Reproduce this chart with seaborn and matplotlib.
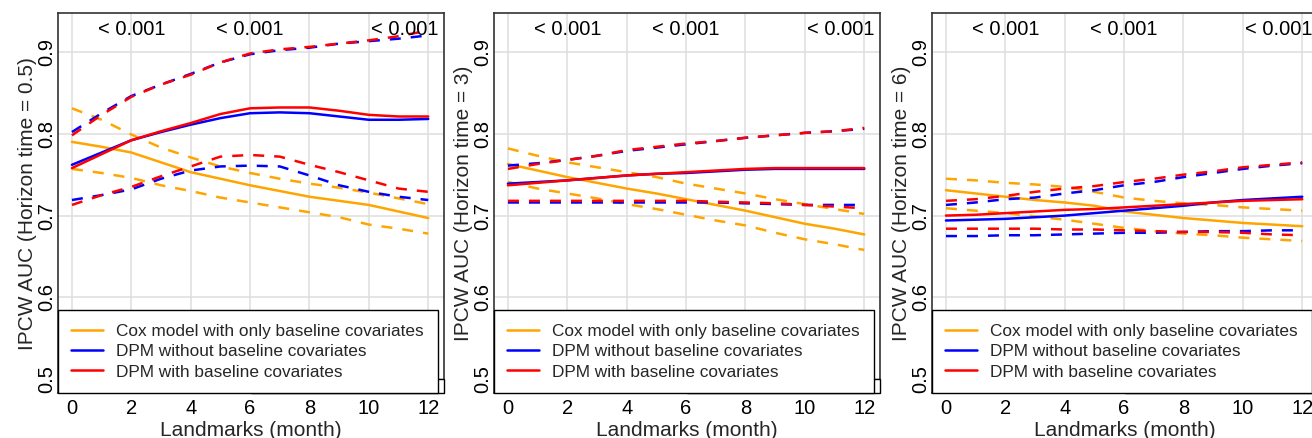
import numpy as np
import pandas as pd
import seaborn as sns
import matplotlib.pyplot as plt
from matplotlib.lines import Line2D
from matplotlib.patches import Rectangle

# landmark times (month) and labels
landmarks = list(range(13))
horizons = ['0.5', '3', '6']
models = ['Cox model with only baseline covariates',
          'DPM without baseline covariates',
          'DPM with baseline covariates']
colors = ['#FFA500', '#0000FF', '#FF0000']
p_labels = ['< 0.001', '< 0.001', '< 0.001']
p_positions = [2, 6, 11.2]

# horizon time = 0.5 : estimate, lower and upper CI
cox_h05 = [0.790, 0.784, 0.777, 0.765, 0.753, 0.745, 0.737, 0.730, 0.723, 0.718, 0.713, 0.705, 0.697]
cox_h05_lo = [0.757, 0.752, 0.746, 0.737, 0.730, 0.722, 0.716, 0.710, 0.704, 0.698, 0.689, 0.684, 0.678]
cox_h05_hi = [0.831, 0.817, 0.799, 0.783, 0.771, 0.760, 0.752, 0.745, 0.739, 0.734, 0.728, 0.721, 0.714]
dpm_h05 = [0.762, 0.777, 0.792, 0.802, 0.811, 0.819, 0.825, 0.826, 0.825, 0.821, 0.817, 0.817, 0.818]
dpm_h05_lo = [0.719, 0.725, 0.732, 0.745, 0.755, 0.760, 0.761, 0.760, 0.749, 0.737, 0.729, 0.723, 0.719]
dpm_h05_hi = [0.802, 0.825, 0.846, 0.860, 0.873, 0.887, 0.897, 0.902, 0.905, 0.910, 0.913, 0.916, 0.920]
dpmb_h05 = [0.758, 0.775, 0.792, 0.803, 0.813, 0.824, 0.831, 0.832, 0.832, 0.828, 0.823, 0.821, 0.821]
dpmb_h05_lo = [0.713, 0.725, 0.735, 0.748, 0.760, 0.772, 0.774, 0.772, 0.762, 0.753, 0.743, 0.733, 0.729]
dpmb_h05_hi = [0.798, 0.823, 0.845, 0.860, 0.872, 0.887, 0.898, 0.903, 0.906, 0.910, 0.914, 0.919, 0.926]

# horizon time = 3
cox_h3 = [0.763, 0.755, 0.747, 0.740, 0.733, 0.727, 0.720, 0.713, 0.706, 0.698, 0.690, 0.684, 0.677]
cox_h3_lo = [0.741, 0.733, 0.727, 0.721, 0.714, 0.708, 0.701, 0.694, 0.688, 0.679, 0.671, 0.665, 0.658]
cox_h3_hi = [0.782, 0.773, 0.765, 0.759, 0.753, 0.747, 0.739, 0.733, 0.727, 0.720, 0.714, 0.708, 0.702]
dpm_h3 = [0.739, 0.741, 0.743, 0.746, 0.749, 0.751, 0.752, 0.754, 0.756, 0.757, 0.757, 0.757, 0.757]
dpm_h3_lo = [0.716, 0.716, 0.716, 0.716, 0.716, 0.716, 0.716, 0.716, 0.715, 0.714, 0.713, 0.713, 0.713]
dpm_h3_hi = [0.761, 0.764, 0.768, 0.773, 0.779, 0.783, 0.787, 0.791, 0.795, 0.798, 0.801, 0.803, 0.806]
dpmb_h3 = [0.737, 0.740, 0.743, 0.746, 0.749, 0.751, 0.753, 0.755, 0.757, 0.758, 0.758, 0.758, 0.758]
dpmb_h3_lo = [0.718, 0.718, 0.718, 0.718, 0.718, 0.718, 0.718, 0.717, 0.716, 0.715, 0.713, 0.711, 0.709]
dpmb_h3_hi = [0.757, 0.763, 0.768, 0.773, 0.780, 0.784, 0.788, 0.791, 0.795, 0.798, 0.801, 0.803, 0.807]

# horizon time = 6
cox_h6 = [0.731, 0.727, 0.723, 0.719, 0.716, 0.712, 0.705, 0.701, 0.697, 0.694, 0.691, 0.689, 0.687]
cox_h6_lo = [0.709, 0.706, 0.703, 0.699, 0.695, 0.690, 0.685, 0.681, 0.678, 0.676, 0.673, 0.671, 0.669]
cox_h6_hi = [0.745, 0.743, 0.740, 0.738, 0.735, 0.729, 0.722, 0.718, 0.715, 0.713, 0.710, 0.708, 0.706]
dpm_h6 = [0.694, 0.695, 0.696, 0.698, 0.700, 0.703, 0.706, 0.709, 0.712, 0.716, 0.719, 0.721, 0.723]
dpm_h6_lo = [0.675, 0.675, 0.676, 0.676, 0.677, 0.678, 0.679, 0.679, 0.680, 0.681, 0.681, 0.682, 0.682]
dpm_h6_hi = [0.713, 0.716, 0.720, 0.722, 0.727, 0.731, 0.737, 0.741, 0.747, 0.752, 0.757, 0.761, 0.764]
dpmb_h6 = [0.700, 0.701, 0.703, 0.705, 0.707, 0.708, 0.710, 0.712, 0.714, 0.716, 0.718, 0.719, 0.720]
dpmb_h6_lo = [0.684, 0.684, 0.684, 0.684, 0.683, 0.683, 0.682, 0.681, 0.680, 0.680, 0.679, 0.677, 0.676]
dpmb_h6_hi = [0.718, 0.720, 0.724, 0.729, 0.733, 0.736, 0.741, 0.745, 0.750, 0.754, 0.759, 0.762, 0.765]

series = {
    '0.5': [(cox_h05, cox_h05_lo, cox_h05_hi), (dpm_h05, dpm_h05_lo, dpm_h05_hi), (dpmb_h05, dpmb_h05_lo, dpmb_h05_hi)],
    '3': [(cox_h3, cox_h3_lo, cox_h3_hi), (dpm_h3, dpm_h3_lo, dpm_h3_hi), (dpmb_h3, dpmb_h3_lo, dpmb_h3_hi)],
    '6': [(cox_h6, cox_h6_lo, cox_h6_hi), (dpm_h6, dpm_h6_lo, dpm_h6_hi), (dpmb_h6, dpmb_h6_lo, dpmb_h6_hi)],
}

rows = []
for h in horizons:
    for model, vals in zip(models, series[h]):
        for kind, v in zip(['est', 'lo', 'hi'], vals):
            rows.append(pd.DataFrame({'horizon': h, 'model': model, 'kind': kind,
                                      'landmark': landmarks, 'auc': v}))
df = pd.concat(rows, ignore_index=True)

sns.set_theme(style='whitegrid')
plt.rcParams['font.family'] = ['Liberation Sans', 'DejaVu Sans']

fig = plt.figure(figsize=(13.12, 4.38), dpi=100)
W, H = 1312.0, 438.0
lefts = [57.7, 493.7, 931.7]

for i, h in enumerate(horizons):
    ax = fig.add_axes([lefts[i] / W, (H - 393.3) / H, 386 / W, 380 / H])
    sub = df[df['horizon'] == h]
    sns.lineplot(data=sub, x='landmark', y='auc', hue='model', hue_order=models,
                 palette=colors, style='kind', style_order=['est', 'lo', 'hi'],
                 dashes={'est': '', 'lo': (4.4, 4.0), 'hi': (4.4, 4.0)},
                 estimator=None, lw=1.8, legend=False, ax=ax)

    for xp, lab in zip(p_positions, p_labels):
        ax.text(xp, 0.927, lab, ha='center', va='center', fontsize=14.5, color='black')

    ax.set_xlim(-0.48, 12.52)
    ax.set_ylim(0.483, 0.947)
    ax.set_xticks([0, 2, 4, 6, 8, 10, 12])
    ax.set_yticks([0.5, 0.6, 0.7, 0.8, 0.9])
    ax.set_yticklabels(['0.5', '0.6', '0.7', '0.8', '0.9'], rotation=90, va='center')
    ax.tick_params(axis='both', length=0, labelsize=14.5, colors='black')
    ax.tick_params(axis='x', pad=4)
    ax.tick_params(axis='y', pad=1)
    ax.grid(True, color='#DEDEDE', lw=1.1)
    for s in ax.spines.values():
        s.set_color('#333333')
        s.set_linewidth(1.2)
    ax.set_xlabel('Landmarks (month)', fontsize=15, labelpad=2)
    ax.set_ylabel('IPCW AUC (Horizon time = ' + h + ')', fontsize=15, labelpad=0)

    # small box peeking behind the legend
    ax.add_patch(Rectangle((0.5, 0), 0.5, 14 / 380, transform=ax.transAxes,
                           facecolor='white', edgecolor='black', lw=1, zorder=4, clip_on=False))

    handles = [Line2D([0], [0], color=c, lw=1.8) for c in colors]
    leg = ax.legend(handles, models, loc='lower left', bbox_to_anchor=(0, 0),
                    borderaxespad=0, fontsize=12.4, handlelength=1.85, handletextpad=0.75,
                    borderpad=0.8, labelspacing=0.3, frameon=True, fancybox=False,
                    framealpha=1, edgecolor='black')
    leg.get_frame().set_linewidth(1.0)
    leg.set_zorder(5)

fig.savefig('out.png', dpi=100)
